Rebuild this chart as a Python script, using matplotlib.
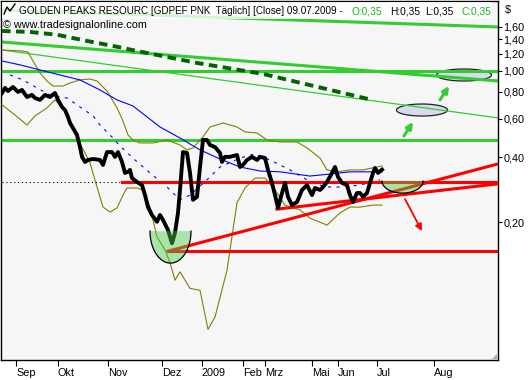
import numpy as np
import matplotlib.pyplot as plt
from matplotlib.lines import Line2D
from matplotlib.patches import Rectangle, Polygon

plt.rcParams["font.family"] = ["Liberation Sans", "DejaVu Sans"]

# x = bar slot on the chart, y = price in $
price_x = [2, 5, 8, 13, 18, 22, 27, 32, 35, 40, 45, 50, 55, 58, 62, 65, 68, 70, 73, 77,
           80, 82, 85, 88, 93, 100, 103, 107, 112, 115, 118, 122, 125, 128, 130, 132, 137, 142, 145, 148,
           152, 157, 160, 163, 168, 172, 175, 178, 180, 183, 187, 190, 193, 197, 200, 203, 207, 210, 215, 220,
           222, 225, 230, 237, 240, 243, 247, 252, 257, 260, 265, 268, 272, 275, 278, 282, 285, 288, 292, 297,
           302, 307, 312, 315, 320, 323, 327, 332, 335, 338, 342, 347, 350, 353, 357, 360, 363, 367, 370, 373,
           375, 378, 382]
price = [0.791, 0.835, 0.808, 0.843, 0.800, 0.817, 0.758, 0.775, 0.750, 0.735,
         0.775, 0.758, 0.791, 0.735, 0.682, 0.660, 0.613, 0.575, 0.545, 0.506,
         0.445, 0.401, 0.380, 0.388, 0.392, 0.388, 0.368, 0.422, 0.422, 0.401,
         0.422, 0.380, 0.338, 0.342, 0.349, 0.320, 0.307, 0.297, 0.267, 0.235,
         0.216, 0.201, 0.216, 0.205, 0.184, 0.160, 0.179, 0.221, 0.282, 0.422,
         0.418, 0.338, 0.254, 0.262, 0.360, 0.480, 0.480, 0.455, 0.445, 0.418,
         0.380, 0.401, 0.401, 0.409, 0.360, 0.368, 0.388, 0.401, 0.388, 0.401,
         0.396, 0.349, 0.304, 0.267, 0.233, 0.273, 0.304, 0.262, 0.240, 0.248,
         0.282, 0.297, 0.267, 0.288, 0.282, 0.291, 0.307, 0.338, 0.360, 0.324,
         0.304, 0.297, 0.267, 0.248, 0.273, 0.273, 0.262, 0.273, 0.304, 0.338,
         0.356, 0.338, 0.350]

# bands (olive)
band_up_x = [2, 22, 28, 33, 40, 47, 53, 63, 70, 80, 90, 97, 107, 117, 123, 128, 133, 140, 153, 167,
             180, 187, 193, 203, 210, 223, 237, 245, 257, 267, 280, 297, 307, 320, 327, 337, 350, 363, 377, 382]
band_up = [1.250, 1.237, 1.224, 1.112, 0.979, 0.899, 0.852, 0.852, 0.880, 0.909,
           0.918, 0.899, 0.808, 0.675, 0.587, 0.506, 0.480, 0.465, 0.465, 0.480,
           0.455, 0.432, 0.441, 0.496, 0.551, 0.575, 0.551, 0.523, 0.517, 0.480,
           0.470, 0.470, 0.441, 0.396, 0.349, 0.342, 0.349, 0.349, 0.360, 0.364]
band_lo_x = [2, 15, 27, 35, 47, 52, 55, 67, 77, 85, 90, 97, 103, 110, 117, 123, 127, 137, 143,
             150, 157, 165, 170, 175, 180, 190, 200, 208, 215, 227, 237, 245, 255, 265, 275, 285, 300, 310, 327,
             340, 350, 360, 373, 382]
band_lo = [0.697, 0.626, 0.563, 0.620, 0.675, 0.712, 0.735, 0.640, 0.490, 0.418,
           0.376, 0.291, 0.235, 0.223, 0.233, 0.267, 0.288, 0.288, 0.282,
           0.235, 0.171, 0.149, 0.130, 0.108, 0.118, 0.099, 0.097, 0.064, 0.073,
           0.120, 0.246, 0.288, 0.320, 0.320, 0.282, 0.240, 0.228, 0.209, 0.194,
           0.221, 0.235, 0.235, 0.240, 0.240]

# moving averages (blue)
ma_long_x = [2, 20, 40, 60, 80, 100, 117, 133, 160, 180, 200, 220, 240, 260, 280, 310, 330, 350, 382]
ma_long = [1.112, 1.067, 1.011, 0.958, 0.909, 0.817, 0.735, 0.689, 0.551, 0.490,
           0.432, 0.392, 0.360, 0.345, 0.342, 0.327, 0.334, 0.342, 0.342]
ma_short_x = [10, 23, 37, 50, 67, 77, 93, 100, 113, 120, 135, 150, 167, 180, 190, 207, 220, 240, 255, 270,
              290, 307, 325, 340, 360, 380]
ma_short = [0.958, 0.909, 0.835, 0.775, 0.750, 0.697, 0.620, 0.563, 0.490, 0.450,
            0.388, 0.338, 0.291, 0.254, 0.267, 0.314, 0.360, 0.396, 0.414, 0.388,
            0.349, 0.314, 0.291, 0.291, 0.297, 0.314]

# long term average (dark green, dashed)
lt_x = [2, 30, 57, 87, 113, 137, 197, 263, 318, 372]
lt_avg = [1.530, 1.515, 1.470, 1.376, 1.305, 1.237, 1.089, 0.969, 0.843, 0.735]

# drawn trend lines: (x start, price start, x end, price end)
green_thick = [(2, 1.913, 498, 1.597), (2, 1.361, 498, 0.899), (2, 1.0, 498, 1.0), (2, 0.48, 498, 0.48)]
green_thin = [(2, 1.250, 498, 0.607)]
red_lines = [(122, 0.307, 498, 0.307), (168, 0.147, 498, 0.147),
             (168, 0.147, 498, 0.372), (277, 0.230, 498, 0.301)]
dotted_level = (2, 122, 0.307)

month_pos = [16, 58, 108, 162, 202, 243, 265, 312, 338, 377, 434]
month_labels = ["Sep", "Okt", "Nov", "Dez", "2009", "Feb", "Mrz", "Mai", "Jun", "Jul", "Aug"]
ytick_vals = [0.2, 0.4, 0.6, 0.8, 1.0, 1.2, 1.4, 1.6]
ytick_labels = ["0,20", "0,40", "0,60", "0,80", "1,00", "1,20", "1,40", "1,60"]

GREEN = "#33cc33"
W, H = 531, 380
fig = plt.figure(figsize=(W / 100, H / 100), dpi=100)
ax = fig.add_axes([1 / W, 20 / H, 497 / W, 359 / H])
ax.set_facecolor("#f6f6f6")
ax.set_yscale("log")
ax.set_xlim(1, 498)
ax.set_ylim(0.0462, 2.105)

for x0, y0, x1, y1 in green_thick:
    ax.plot([x0, x1], [y0, y1], color=GREEN, lw=2.2, zorder=2)
for x0, y0, x1, y1 in green_thin:
    ax.plot([x0, x1], [y0, y1], color=GREEN, lw=0.9, zorder=2)
ax.plot(lt_x, lt_avg, color="#006400", lw=2.8, ls=(0, (2.2, 1.4)), zorder=3)

ax.plot(band_up_x, band_up, color="#808000", lw=0.8, zorder=3)
ax.plot(band_lo_x, band_lo, color="#808000", lw=0.8, zorder=3)
ax.plot(ma_long_x, ma_long, color="#0000ff", lw=0.8, zorder=3)
ax.plot(ma_short_x, ma_short, color="#0000ff", lw=0.8, ls=(0, (2.7, 5)), zorder=3)

for x0, y0, x1, y1 in red_lines:
    ax.plot([x0, x1], [y0, y1], color="#ff0000", lw=2.2, zorder=4)
ax.plot(dotted_level[:2], [dotted_level[2]] * 2, color="black", lw=0.8, ls=(0, (1, 2.5)), zorder=4)

ax.plot(price_x, price, color="black", lw=2.8, zorder=5)


def half_disc(cx, top, hw, depth):
    t = np.linspace(0, np.pi, 60)
    xs = cx + hw * np.cos(t)
    ys = top * np.exp(-depth * np.sin(t))
    ax.fill(xs, ys, color="#4ccc4c", alpha=0.45, lw=0, zorder=6)
    ax.plot(xs, ys, color="black", lw=0.9, zorder=6)


def ellipse(cx, cy, hw, hh):
    t = np.linspace(0, 2 * np.pi, 80)
    xs = cx + hw * np.cos(t)
    ys = cy * np.exp(hh * np.sin(t))
    ax.fill(xs, ys, facecolor="#d4d4f0", alpha=0.85, edgecolor="black", lw=0.9, zorder=1.5)


half_disc(170.5, 0.182, 20.5, 0.34)
half_disc(402.5, 0.310, 20.5, 0.128)
ellipse(464, 0.958, 27.5, 0.064)
ellipse(422, 0.660, 25.5, 0.064)

for tail, head in [((440, 0.735), (449, 0.852)), ((404, 0.501), (413, 0.581))]:
    ax.annotate("", xy=head, xytext=tail,
                arrowprops=dict(arrowstyle="-|>", color=GREEN, lw=2.2, mutation_scale=9,
                                shrinkA=0, shrinkB=0), zorder=7)
ax.annotate("", xy=(422, 0.182), xytext=(405, 0.256),
            arrowprops=dict(arrowstyle="-|>", color="#ff0000", lw=1.3, mutation_scale=10,
                            shrinkA=0, shrinkB=0), zorder=7)

for s in ax.spines.values():
    s.set_color("black")
    s.set_linewidth(1.0)

ax.yaxis.tick_right()
ax.set_yticks(ytick_vals)
ax.set_yticklabels(ytick_labels)
ax.yaxis.set_minor_locator(plt.NullLocator())
ax.tick_params(axis="y", direction="out", length=3, width=0.8, pad=1, labelsize=7.8)
ax.set_xticks(month_pos)
ax.set_xticklabels(month_labels, ha="left")
ax.tick_params(axis="x", direction="out", length=4, width=0.8, pad=2, labelsize=7.8)

# header
fig.add_artist(Rectangle((2 / W, 1 - 19 / H), 489 / W, 17 / H, transform=fig.transFigure,
                         facecolor="white", alpha=0.8, edgecolor="none", zorder=5))
ty = 1 - 11 / H
fig.text(18.6 / W, ty, "GOLDEN PEAKS RESOURC [GDPEF PNK  Täglich] [Close] 09.07.2009 -", fontsize=7.1,
         va="center", zorder=6)
fig.text(352 / W, ty, "O:0,35", color="#1db31d", fontsize=7.3, va="center", zorder=6)
fig.text(390 / W, ty, "H:0,35", fontsize=7.3, va="center", zorder=6)
fig.text(425 / W, ty, "L:0,35", fontsize=7.3, va="center", zorder=6)
fig.text(462 / W, ty, "C:0,35", color="#1db31d", fontsize=7.3, va="center", zorder=6)
fig.text(3 / W, 1 - 25 / H, "\u00a9 www.tradesignalonline.com", fontsize=7.8, va="center", zorder=6)
fig.text(505 / W, 1 - 10 / H, "$", fontsize=7.8, va="center")
fig.add_artist(Line2D(np.array([4, 7, 10, 15]) / W, 1 - np.array([14, 7, 11, 4]) / H,
                      color="black", lw=1, zorder=6))
fig.add_artist(Polygon([[492 / W, 1 - 359 / H], [497 / W, 1 - 354 / H], [497 / W, 1 - 359 / H]],
                       closed=True, transform=fig.transFigure, facecolor="#aaaaaa", edgecolor="none", zorder=6))

fig.savefig("out.png", dpi=100)
